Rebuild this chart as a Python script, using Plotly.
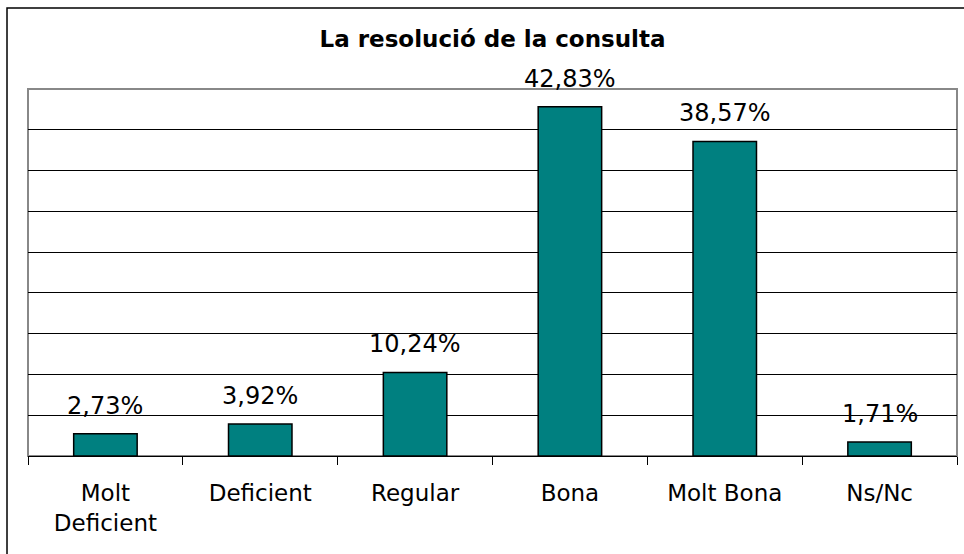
import plotly.graph_objects as go

categories = ["Molt<br>Deficient", "Deficient", "Regular", "Bona", "Molt Bona", "Ns/Nc"]
values = [2.73, 3.92, 10.24, 42.83, 38.57, 1.71]
value_labels = ["2,73%", "3,92%", "10,24%", "42,83%", "38,57%", "1,71%"]
title_text = "La resolució de la consulta"

FONT = "Verdana, DejaVu Sans, sans-serif"

fig = go.Figure()
fig.add_trace(go.Bar(
    x=categories,
    y=values,
    marker=dict(color="#008080", line=dict(color="#000000", width=1.5)),
    width=0.41,
    hoverinfo="skip",
))

for c, v, t in zip(categories, values, value_labels):
    fig.add_annotation(
        x=c, y=v, text=t, showarrow=False,
        yanchor="middle", yshift=28,
        font=dict(family=FONT, size=24, color="#000000"),
    )

# outer chart border (extends beyond right/bottom of the image)
fig.add_shape(type="rect", xref="paper", yref="paper",
              x0=-0.0226, x1=1.02, y0=-0.3, y1=1.2207,
              line=dict(color="#000000", width=1.5), layer="below")
# plot area border
fig.add_shape(type="rect", xref="paper", yref="paper",
              x0=0, x1=1, y0=0, y1=1,
              line=dict(color="#888888", width=2), layer="below")

fig.update_layout(
    width=964, height=554,
    margin=dict(l=28, r=7, t=89, b=98),
    paper_bgcolor="#ffffff",
    plot_bgcolor="#ffffff",
    showlegend=False,
    font=dict(family=FONT, color="#000000"),
    title=dict(
        text="<b>" + title_text + "</b>",
        x=0.5, xref="paper", xanchor="center",
        y=1 - 39 / 554, yref="container", yanchor="middle",
        font=dict(family=FONT, size=23, color="#000000"),
    ),
    xaxis=dict(
        type="category",
        tickson="boundaries",
        ticks="outside", ticklen=8, tickcolor="#000000", tickwidth=1,
        showline=True, linecolor="#000000", linewidth=1,
        showgrid=False,
        tickfont=dict(family=FONT, size=23, color="#000000"),
        ticklabelstandoff=16,
    ),
    yaxis=dict(
        range=[0, 45], dtick=5,
        showgrid=True, gridcolor="#000000", gridwidth=1,
        showticklabels=False, ticks="",
        zeroline=False, showline=False,
    ),
)

fig.write_html(
    "out.html",
    config={"displayModeBar": False},
    post_script="document.body.style.margin='0px';document.body.style.overflow='hidden';",
)
